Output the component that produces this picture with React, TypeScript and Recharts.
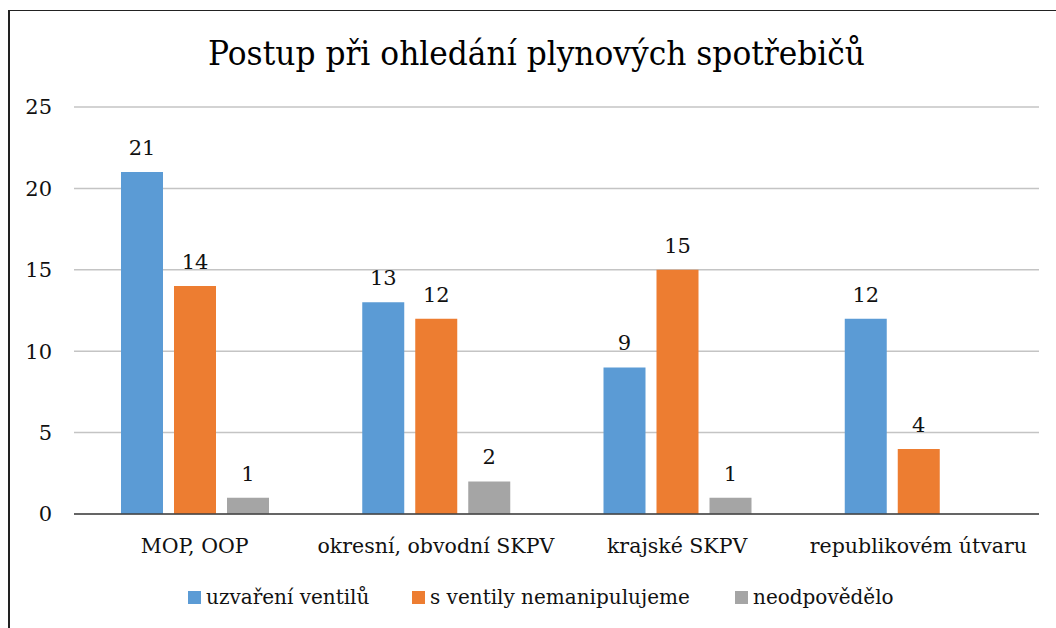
import React from "react";
import { BarChart, Bar, XAxis, YAxis, CartesianGrid, LabelList } from "recharts";

const title = "Postup při ohledání plynových spotřebičů";
const categories = ["MOP, OOP", "okresní, obvodní SKPV", "krajské SKPV", "republikovém útvaru"];
const seriesNames = ["uzvaření ventilů", "s ventily nemanipulujeme", "neodpovědělo"];
const uzavreni = [21, 13, 9, 12];
const nemanipulujeme = [14, 12, 15, 4];
const neodpovedelo: (number | null)[] = [1, 2, 1, null];
const yTicks = [0, 5, 10, 15, 20, 25];
const colors = ["#5B9BD5", "#ED7D31", "#A5A5A5"];

const data = categories.map((c, i) => ({
  name: c,
  a: uzavreni[i],
  b: nemanipulujeme[i],
  c: neodpovedelo[i],
}));

const FONT = "'DejaVu Serif', serif";

export default function App() {
  const keys = ["a", "b", "c"];
  return (
    <div style={{ position: "absolute", left: 0, top: 0, width: 1056, height: 628, overflow: "hidden", background: "#fff" }}>
      <div
        style={{
          position: "absolute",
          left: 8,
          top: 10,
          width: 1200,
          height: 800,
          borderLeft: "2px solid #222",
          borderTop: "1px solid #222",
        }}
      />
      <svg style={{ position: "absolute", left: 0, top: 0 }} width={1056} height={100}>
        <text
          x={208}
          y={65}
          fontFamily={FONT}
          fontSize={33}
          fill="#000"
          textLength={657}
          lengthAdjust="spacingAndGlyphs"
        >
          {title}
        </text>
      </svg>
      <div style={{ position: "absolute", left: 0, top: 0 }}>
        <BarChart
          width={1056}
          height={628}
          data={data}
          margin={{ top: 107, right: 17, left: 0, bottom: 0 }}
          barSize={42}
          barGap={11}
        >
          <CartesianGrid vertical={false} stroke="#C4C4C4" strokeWidth={1.5} />
          <XAxis
            dataKey="name"
            height={114}
            tickLine={false}
            tickSize={0}
            tickMargin={24}
            axisLine={{ stroke: "#404040", strokeWidth: 1.5 }}
            tick={{ fontFamily: FONT, fontSize: 20.5, fill: "#111" }}
            interval={0}
          />
          <YAxis
            width={74}
            domain={[0, 25]}
            ticks={yTicks}
            axisLine={false}
            tickLine={false}
            tickSize={0}
            tickMargin={22}
            tick={{ fontFamily: FONT, fontSize: 21, fill: "#111" }}
          />
          {keys.map((k, i) => (
            <Bar key={k} dataKey={k} name={seriesNames[i]} fill={colors[i]} isAnimationActive={false}>
              <LabelList
                dataKey={k}
                position="top"
                offset={17}
                style={{ fontFamily: FONT, fontSize: 21, fill: "#111" }}
              />
            </Bar>
          ))}
        </BarChart>
      </div>
      <div
        style={{
          position: "absolute",
          left: 0,
          top: 585,
          width: 1056,
          fontFamily: FONT,
          fontSize: 20,
          color: "#111",
          lineHeight: "24px",
        }}
      >
        {seriesNames.map((n, i) => (
          <div
            key={n}
            style={{
              position: "absolute",
              left: [188, 412, 735][i],
              top: 0,
              display: "flex",
              alignItems: "center",
              whiteSpace: "nowrap",
            }}
          >
            <span style={{ display: "inline-block", width: 13, height: 13, background: colors[i], marginRight: 5 }} />
            <span>{n}</span>
          </div>
        ))}
      </div>
    </div>
  );
}
